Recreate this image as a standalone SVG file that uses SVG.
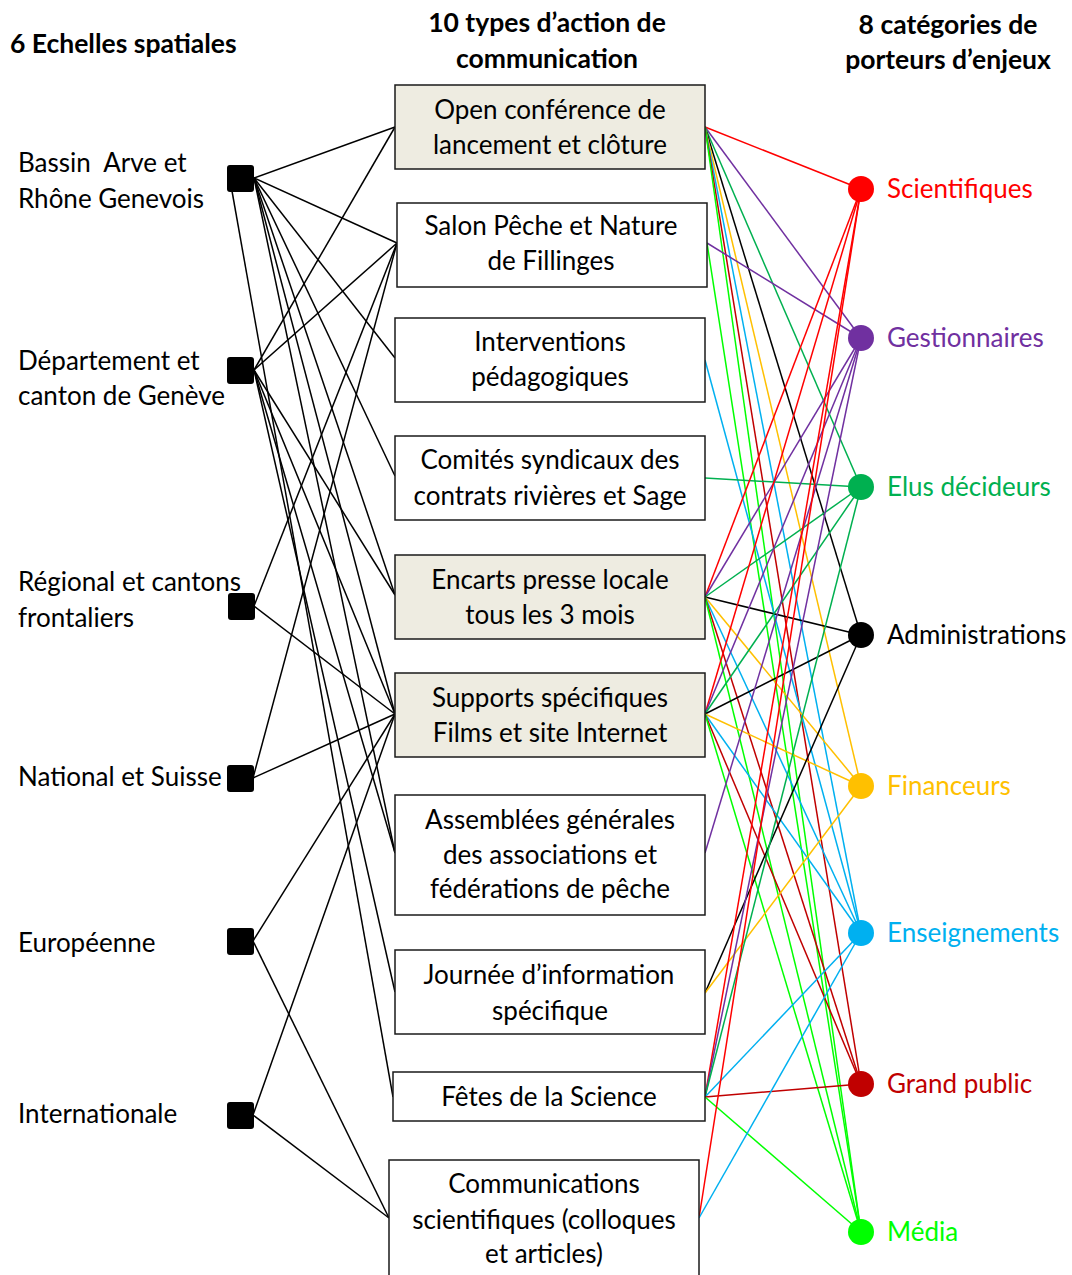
<svg xmlns="http://www.w3.org/2000/svg" width="1072" height="1275" viewBox="0 0 1072 1275">
<style>
text{font-family:Lato,"Open Sans","Liberation Sans",sans-serif;font-size:26px;fill:#000}
.h{font-weight:bold;font-size:26.5px}
.c{text-anchor:middle}
.box{fill:#fff;stroke:#1a1a1a;stroke-width:1.5}
.bg{fill:#EEECE1}
.sq{fill:#000}
.k{stroke:#000;stroke-width:1.5;fill:none}
.r{stroke:#FF0000;stroke-width:1.5}
.p{stroke:#7030A0;stroke-width:1.5}
.g{stroke:#00B050;stroke-width:1.5}
.b{stroke:#000;stroke-width:1.5}
.o{stroke:#FFC000;stroke-width:1.5}
.u{stroke:#00B0F0;stroke-width:1.5}
.d{stroke:#C00000;stroke-width:1.5}
.m{stroke:#00FF00;stroke-width:1.5}
</style>
<rect width="1072" height="1275" fill="#fff"/>
<g id="headers">
<text class="h" x="10" y="53">6 Echelles spatiales</text>
<text class="h c" x="547" y="32">10 types d’action de</text>
<text class="h c" x="547" y="68">communication</text>
<text class="h c" x="948" y="34">8 catégories de</text>
<text class="h c" x="948" y="69">porteurs d’enjeux</text>
</g>
<g id="connectors">
<g class="k">
<line x1="254" y1="178" x2="395" y2="127"/>
<line x1="254" y1="178" x2="397" y2="243"/>
<line x1="254" y1="178" x2="395" y2="358"/>
<line x1="254" y1="178" x2="395" y2="476"/>
<line x1="254" y1="178" x2="395" y2="595"/>
<line x1="254" y1="178" x2="395" y2="714"/>
<line x1="254" y1="178" x2="395" y2="853"/>
<line x1="232" y1="191" x2="393" y2="1097"/>
<line x1="254" y1="370" x2="395" y2="127"/>
<line x1="254" y1="370" x2="397" y2="243"/>
<line x1="254" y1="370" x2="395" y2="595"/>
<line x1="254" y1="370" x2="395" y2="714"/>
<line x1="254" y1="370" x2="395" y2="853"/>
<line x1="254" y1="370" x2="395" y2="992"/>
<line x1="254" y1="606" x2="397" y2="243"/>
<line x1="254" y1="606" x2="395" y2="714"/>
<line x1="253" y1="778" x2="397" y2="243"/>
<line x1="253" y1="778" x2="395" y2="714"/>
<line x1="253" y1="941" x2="395" y2="714"/>
<line x1="253" y1="941" x2="389" y2="1218"/>
<line x1="253" y1="1115" x2="395" y2="714"/>
<line x1="253" y1="1115" x2="389" y2="1218"/>
</g>
<line class="r" x1="705" y1="127" x2="861" y2="189"/>
<line class="p" x1="705" y1="127" x2="861" y2="338"/>
<line class="g" x1="705" y1="127" x2="861" y2="487"/>
<line class="b" x1="705" y1="127" x2="861" y2="635"/>
<line class="o" x1="705" y1="127" x2="861" y2="786"/>
<line class="u" x1="705" y1="127" x2="861" y2="933"/>
<line class="d" x1="705" y1="127" x2="861" y2="1084"/>
<line class="m" x1="705" y1="127" x2="861" y2="1232"/>
<line class="p" x1="707" y1="243" x2="861" y2="338"/>
<line class="m" x1="707" y1="243" x2="861" y2="1232"/>
<line class="u" x1="705" y1="360" x2="861" y2="933"/>
<line class="g" x1="705" y1="478" x2="861" y2="487"/>
<line class="r" x1="705" y1="597" x2="861" y2="189"/>
<line class="p" x1="705" y1="597" x2="861" y2="338"/>
<line class="g" x1="705" y1="597" x2="861" y2="487"/>
<line class="b" x1="705" y1="597" x2="861" y2="635"/>
<line class="o" x1="705" y1="597" x2="861" y2="786"/>
<line class="u" x1="705" y1="597" x2="861" y2="933"/>
<line class="d" x1="705" y1="597" x2="861" y2="1084"/>
<line class="m" x1="705" y1="597" x2="861" y2="1232"/>
<line class="r" x1="705" y1="714" x2="861" y2="189"/>
<line class="p" x1="705" y1="714" x2="861" y2="338"/>
<line class="g" x1="705" y1="714" x2="861" y2="487"/>
<line class="b" x1="705" y1="714" x2="861" y2="635"/>
<line class="o" x1="705" y1="714" x2="861" y2="786"/>
<line class="u" x1="705" y1="714" x2="861" y2="933"/>
<line class="d" x1="705" y1="714" x2="861" y2="1084"/>
<line class="m" x1="705" y1="714" x2="861" y2="1232"/>
<line class="p" x1="705" y1="853" x2="861" y2="338"/>
<line class="b" x1="705" y1="993" x2="861" y2="635"/>
<line class="o" x1="705" y1="993" x2="861" y2="786"/>
<line class="r" x1="705" y1="1097" x2="861" y2="189"/>
<line class="p" x1="705" y1="1097" x2="861" y2="338"/>
<line class="g" x1="705" y1="1097" x2="861" y2="487"/>
<line class="u" x1="705" y1="1097" x2="861" y2="933"/>
<line class="d" x1="705" y1="1097" x2="861" y2="1084"/>
<line class="m" x1="705" y1="1097" x2="861" y2="1232"/>
<line class="r" x1="699" y1="1218" x2="861" y2="189"/>
<line class="u" x1="699" y1="1218" x2="861" y2="933"/>
</g>
<g id="scale-bassin"><rect class="sq" x="227" y="165" width="27" height="27" rx="3"/><text x="18" y="172">Bassin&#160; Arve et</text><text x="18" y="208">Rhône Genevois</text></g>
<g id="scale-departement"><rect class="sq" x="227" y="357" width="27" height="27" rx="3"/><text x="18" y="370">Département et</text><text x="18" y="405">canton de Genève</text></g>
<g id="scale-regional"><rect class="sq" x="228" y="593" width="27" height="27" rx="3"/><text x="18" y="591">Régional et cantons</text><text x="18" y="627">frontaliers</text></g>
<g id="scale-national"><rect class="sq" x="227" y="765" width="27" height="27" rx="3"/><text x="18" y="786">National et Suisse</text></g>
<g id="scale-europeenne"><rect class="sq" x="227" y="928" width="27" height="27" rx="3"/><text x="18" y="952">Européenne</text></g>
<g id="scale-internationale"><rect class="sq" x="227" y="1102" width="27" height="27" rx="3"/><text x="18" y="1123">Internationale</text></g>
<g id="action-open"><rect class="box bg" x="395" y="85" width="310" height="84"/><text class="c" x="550" y="119">Open conférence de</text><text class="c" x="550" y="154">lancement et clôture</text></g>
<g id="action-salon"><rect class="box" x="397" y="203" width="310" height="84"/><text class="c" x="551" y="235">Salon Pêche et Nature</text><text class="c" x="551" y="270">de Fillinges</text></g>
<g id="action-interventions"><rect class="box" x="395" y="318" width="310" height="84"/><text class="c" x="550" y="351">Interventions</text><text class="c" x="550" y="386">pédagogiques</text></g>
<g id="action-comites"><rect class="box" x="395" y="436" width="310" height="84"/><text class="c" x="550" y="469">Comités syndicaux des</text><text class="c" x="550" y="505">contrats rivières et Sage</text></g>
<g id="action-encarts"><rect class="box bg" x="395" y="555" width="310" height="84"/><text class="c" x="550" y="589">Encarts presse locale</text><text class="c" x="550" y="624">tous les 3 mois</text></g>
<g id="action-supports"><rect class="box bg" x="395" y="673" width="310" height="84"/><text class="c" x="550" y="707">Supports spécifiques</text><text class="c" x="550" y="742">Films et site Internet</text></g>
<g id="action-assemblees"><rect class="box" x="395" y="795" width="310" height="120"/><text class="c" x="550" y="829">Assemblées générales</text><text class="c" x="550" y="864">des associations et</text><text class="c" x="550" y="898">fédérations de pêche</text></g>
<g id="action-journee"><rect class="box" x="395" y="950" width="310" height="84"/><text class="c" x="549" y="984">Journée d’information</text><text class="c" x="550" y="1020">spécifique</text></g>
<g id="action-fetes"><rect class="box" x="393" y="1072" width="312" height="49"/><text class="c" x="549" y="1106">Fêtes de la Science</text></g>
<g id="action-communications"><rect class="box" x="389" y="1160" width="310" height="125"/><text class="c" x="544" y="1193">Communications</text><text class="c" x="544" y="1229">scientifiques (colloques</text><text class="c" x="544" y="1263">et articles)</text></g>
<g id="actor-scientifiques"><circle cx="861" cy="189" r="13" fill="#FF0000"/><text x="887" y="198" style="fill:#FF0000">Scientifiques</text></g>
<g id="actor-gestionnaires"><circle cx="861" cy="338" r="13" fill="#7030A0"/><text x="887" y="347" style="fill:#7030A0">Gestionnaires</text></g>
<g id="actor-elus"><circle cx="861" cy="487" r="13" fill="#00B050"/><text x="887" y="496" style="fill:#00B050">Elus décideurs</text></g>
<g id="actor-administrations"><circle cx="861" cy="635" r="13" fill="#000"/><text x="887" y="644">Administrations</text></g>
<g id="actor-financeurs"><circle cx="861" cy="786" r="13" fill="#FFC000"/><text x="887" y="795" style="fill:#FFC000">Financeurs</text></g>
<g id="actor-enseignements"><circle cx="861" cy="933" r="13" fill="#00B0F0"/><text x="887" y="942" style="fill:#00B0F0">Enseignements</text></g>
<g id="actor-grandpublic"><circle cx="861" cy="1084" r="13" fill="#C00000"/><text x="887" y="1093" style="fill:#C00000">Grand public</text></g>
<g id="actor-media"><circle cx="861" cy="1232" r="13" fill="#00FF00"/><text x="887" y="1241" style="fill:#00FF00">Média</text></g>
</svg>
